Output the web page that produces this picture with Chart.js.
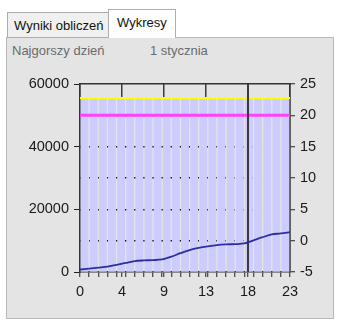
<!DOCTYPE html>
<html>
<head>
<meta charset="utf-8">
<script src="https://cdn.jsdelivr.net/npm/chart.js@4/dist/chart.umd.min.js"></script>
<style>
    body { margin: 0; background: #fff; font-family: "Liberation Sans", Arial, sans-serif; }
    .tab { position: absolute; box-sizing: border-box; border: 1px solid #adadad; font-size: 13px; color: #111; }
    #tabResults { left: 7px; top: 12px; width: 102px; height: 26px; background: #f0f0f0; padding: 5px 0 0 6px; }
    #tabCharts { left: 108px; top: 9px; width: 68px; height: 29px; background: #fff; border-bottom: none; padding: 5px 0 0 8px; z-index: 2; }
    #panel { position: absolute; left: 6px; top: 37px; width: 328px; height: 282px; box-sizing: border-box;
             border: 1px solid #b9b9b9; background: #e4e4e4; }
    .info { position: absolute; top: 43px; font-size: 13px; color: #6b6b6b; }
    #chartBox { position: absolute; left: 0; top: 60px; }
</style>
</head>
<body>
<div id="panel"></div>
<div class="tab" id="tabResults">Wyniki obliczeń</div>
<div class="tab" id="tabCharts">Wykresy</div>
<div class="info" style="left:12px">Najgorszy dzień</div>
<div class="info" style="left:150px">1 stycznia</div>
<div id="chartBox"><canvas id="dayChart" width="338" height="258"></canvas></div>

<script>
// hourly temperature over the day (right axis)
const hours = [0, 1, 2, 3, 4, 5, 6, 7, 8, 9, 10, 11, 12, 13, 14, 15, 16, 17, 18, 19, 20, 21, 22, 23];
const temperature = [-4.6, -4.45, -4.3, -4.15, -3.85, -3.55, -3.25, -3.15, -3.1, -3.0, -2.55, -2.0,
                     -1.5, -1.15, -0.9, -0.7, -0.6, -0.55, -0.45, 0.05, 0.55, 1.0, 1.15, 1.35];

// one column per hour interval (left axis)
const capacity = [55500, 55500, 55500, 55500, 55500, 55500, 55500, 55500, 55500, 55500, 55500, 55500,
                  55500, 55500, 55500, 55500, 55500, 55500, 55500, 55500, 55500, 55500, 55500];
const capacityLimit = 55500;
const demandLimit = 50000;
const worstHour = 18.4;

// labelled hour ticks and their captions
const hourTicks = [0, 4.6, 9.2, 13.8, 18.4, 23];
const hourTickLabels = ['0', '4', '9', '13', '18', '23'];

const axisFont = { family: "'Liberation Sans', Arial, sans-serif", size: 14.5 };
const inkColor = '#333';

function flatLine(value) {
    return [{ x: hours[0], y: value }, { x: hours[hours.length - 1], y: value }];
}

new Chart(document.getElementById('dayChart'), {
    data: {
        datasets: [
            {
                type: 'bar',
                data: capacity.map((v, i) => ({ x: hours[i] + 0.5, y: v })),
                backgroundColor: 'rgb(204, 204, 255)',
                barThickness: 7.2,
                yAxisID: 'y',
                order: 5
            },
            {
                type: 'line',
                data: flatLine(capacityLimit),
                borderColor: '#ffff00',
                borderWidth: 2,
                pointRadius: 0,
                yAxisID: 'y',
                order: 4
            },
            {
                type: 'line',
                data: flatLine(demandLimit),
                borderColor: '#ff40ff',
                borderWidth: 3,
                pointRadius: 0,
                yAxisID: 'y',
                order: 3
            },
            {
                type: 'line',
                data: [{ x: worstHour, y: 0 }, { x: worstHour, y: 60000 }],
                borderColor: '#3a3a3a',
                borderWidth: 2,
                pointRadius: 0,
                yAxisID: 'y',
                order: 2
            },
            {
                type: 'line',
                data: temperature.map((t, i) => ({ x: hours[i], y: t })),
                borderColor: '#2e2ea0',
                borderWidth: 1.8,
                tension: 0.3,
                pointRadius: 0,
                yAxisID: 'y2',
                order: 1
            }
        ]
    },
    options: {
        responsive: false,
        animation: false,
        layout: { padding: { top: 24, left: 0, right: 0, bottom: 0 } },
        plugins: { legend: { display: false }, tooltip: { enabled: false } },
        scales: {
            x: {
                type: 'linear',
                min: 0,
                max: 23,
                offset: false,
                afterBuildTicks: (scale) => {
                    let values = hours.concat(hourTicks.filter(v => !hours.includes(v)));
                    values.sort((a, b) => a - b);
                    scale.ticks = values.map(v => ({ value: v }));
                },
                afterFit: (scale) => { scale.height = 46; },
                ticks: {
                    autoSkip: false,
                    maxRotation: 0,
                    padding: 6,
                    color: '#1a1a1a',
                    font: axisFont,
                    callback: (value) => {
                        let idx = hourTicks.indexOf(value);
                        return idx >= 0 ? hourTickLabels[idx] : '';
                    }
                },
                grid: {
                    offset: false,
                    color: (ctx) => ctx.tick && hourTicks.includes(ctx.tick.value) ? '#3a3a3a' : 'rgba(0,0,0,0)',
                    lineWidth: 1.5,
                    tickColor: '#222',
                    tickLength: 5,
                    tickWidth: 1
                },
                border: { color: inkColor, width: 1.5 }
            },
            xTop: {
                type: 'linear',
                position: 'top',
                min: 0,
                max: 23,
                offset: false,
                afterFit: (scale) => { scale.height = 0; },
                ticks: { display: false },
                grid: { display: false, drawTicks: false },
                border: { color: inkColor, width: 1.5 }
            },
            y: {
                position: 'left',
                min: 0,
                max: 60000,
                afterFit: (scale) => { scale.width = 80; },
                ticks: { stepSize: 20000, padding: 5, color: '#1a1a1a', font: axisFont, callback: (v) => String(v) },
                grid: { drawOnChartArea: false, tickLength: 6, tickColor: '#222' },
                border: { color: inkColor, width: 1.5 }
            },
            y2: {
                position: 'right',
                min: -5,
                max: 25,
                z: 1,
                afterFit: (scale) => { scale.width = 48; },
                ticks: { stepSize: 5, padding: 5, color: '#1a1a1a', font: axisFont, callback: (v) => String(v) },
                grid: {
                    color: (ctx) => ctx.tick && (ctx.tick.value === -5 || ctx.tick.value === 25) ? 'rgba(0,0,0,0)' : '#111',
                    lineWidth: 1.5,
                    tickColor: '#222',
                    tickLength: 5,
                    tickWidth: 1,
                    tickBorderDash: []
                },
                border: { color: inkColor, width: 1.5, dash: [2, 7] }
            }
        }
    }
});
</script>
</body>
</html>
